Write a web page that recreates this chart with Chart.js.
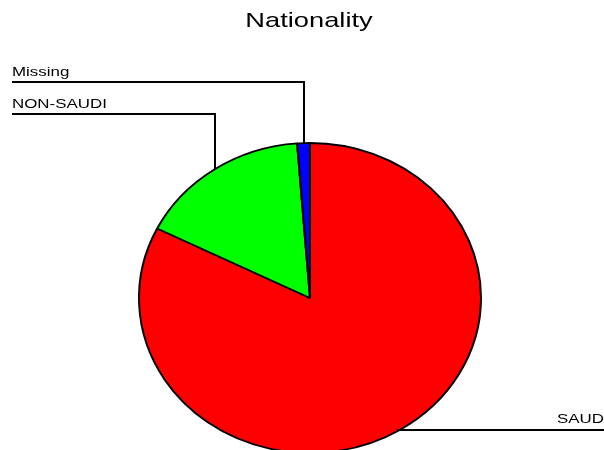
<!DOCTYPE html>
<html lang="en">
<head>
<meta charset="UTF-8">
<title>Nationality</title>
<script src="https://cdn.jsdelivr.net/npm/chart.js"></script>
<style>
    body{margin:0;padding:0;background:#fff;overflow:hidden;}
    .wrap{position:absolute;left:0;top:0;width:604px;height:480px;}
</style>
</head>
<body>
<div class="wrap"><canvas id="natChart"></canvas></div>
<script>
/* data: share of respondents (%) */
const categories = ['SAUDI', 'NON-SAUDI', 'Missing'];
const percents   = [82.4, 16.4, 1.2];
const colors     = ['#ff0000', '#00ff00', '#0000ff'];

const SQUASH = 155 / 171;   // pie is drawn as a flattened ellipse
const STRETCH = 1.3;        // wide lettering

/* squash the arcs vertically around the pie centre */
const ellipsePlugin = {
    id: 'ellipse',
    beforeDatasetsDraw(chart){
        const a = chart.getDatasetMeta(0).data[0];
        const ctx = chart.ctx;
        ctx.save();
        ctx.translate(a.x, a.y);
        ctx.scale(1, SQUASH);
        ctx.translate(-a.x, -a.y);
    },
    afterDatasetsDraw(chart){
        chart.ctx.restore();
    }
};

function wideText(ctx, txt, x, y, size){
    ctx.save();
    ctx.font = size + 'px "Liberation Sans", Arial, sans-serif';
    ctx.fillStyle = '#000';
    ctx.textBaseline = 'alphabetic';
    ctx.textAlign = 'left';
    ctx.translate(x, y);
    ctx.scale(STRETCH, 1);
    ctx.fillText(txt, 0, 0);
    ctx.restore();
}

/* title + leader-line labels */
const labelPlugin = {
    id: 'leaders',
    afterDraw(chart){
        const ctx = chart.ctx;
        const meta = chart.getDatasetMeta(0);

        // title
        ctx.save();
        ctx.font = '21px "Liberation Sans", Arial, sans-serif';
        const tw = ctx.measureText('Nationality').width * STRETCH;
        ctx.restore();
        wideText(ctx, 'Nationality', 309 - tw / 2, 27, 21);

        // left side labels stacked at top, right side one at the arc
        const leftRows = {'Missing': 82, 'NON-SAUDI': 114};
        ctx.save();
        ctx.strokeStyle = '#000';
        ctx.lineWidth = 2;
        meta.data.forEach((arc, i) => {
            const mid = (arc.startAngle + arc.endAngle) / 2;
            const px = Math.round(arc.x + arc.outerRadius * Math.cos(mid));
            const py = arc.y + arc.outerRadius * SQUASH * Math.sin(mid);
            const name = categories[i];
            ctx.beginPath();
            if (leftRows[name] !== undefined){
                const ly = leftRows[name];
                ctx.moveTo(12, ly);
                ctx.lineTo(px, ly);
                ctx.lineTo(px, py);
                ctx.stroke();
                wideText(ctx, name, 12, ly - 6.5, 13);
            } else {
                const ly = Math.round(py);
                ctx.moveTo(px - 3, ly);
                ctx.lineTo(604, ly);
                ctx.stroke();
                wideText(ctx, name, 557, ly - 7, 13);
            }
        });
        ctx.restore();
    }
};

new Chart(document.getElementById('natChart'), {
    type: 'pie',
    data: {
        labels: categories,
        datasets: [{
            data: percents,
            backgroundColor: colors,
            borderColor: '#000',
            borderWidth: 2,
            hoverOffset: 0
        }]
    },
    options: {
        responsive: true,
        maintainAspectRatio: false,
        animation: false,
        events: [],
        radius: 171,
        layout: { padding: { left: 139, right: 123, top: 127, bottom: 11 } },
        plugins: {
            legend: { display: false },
            title: { display: false },
            tooltip: { enabled: false }
        }
    },
    plugins: [ellipsePlugin, labelPlugin]
});
</script>
</body>
</html>
